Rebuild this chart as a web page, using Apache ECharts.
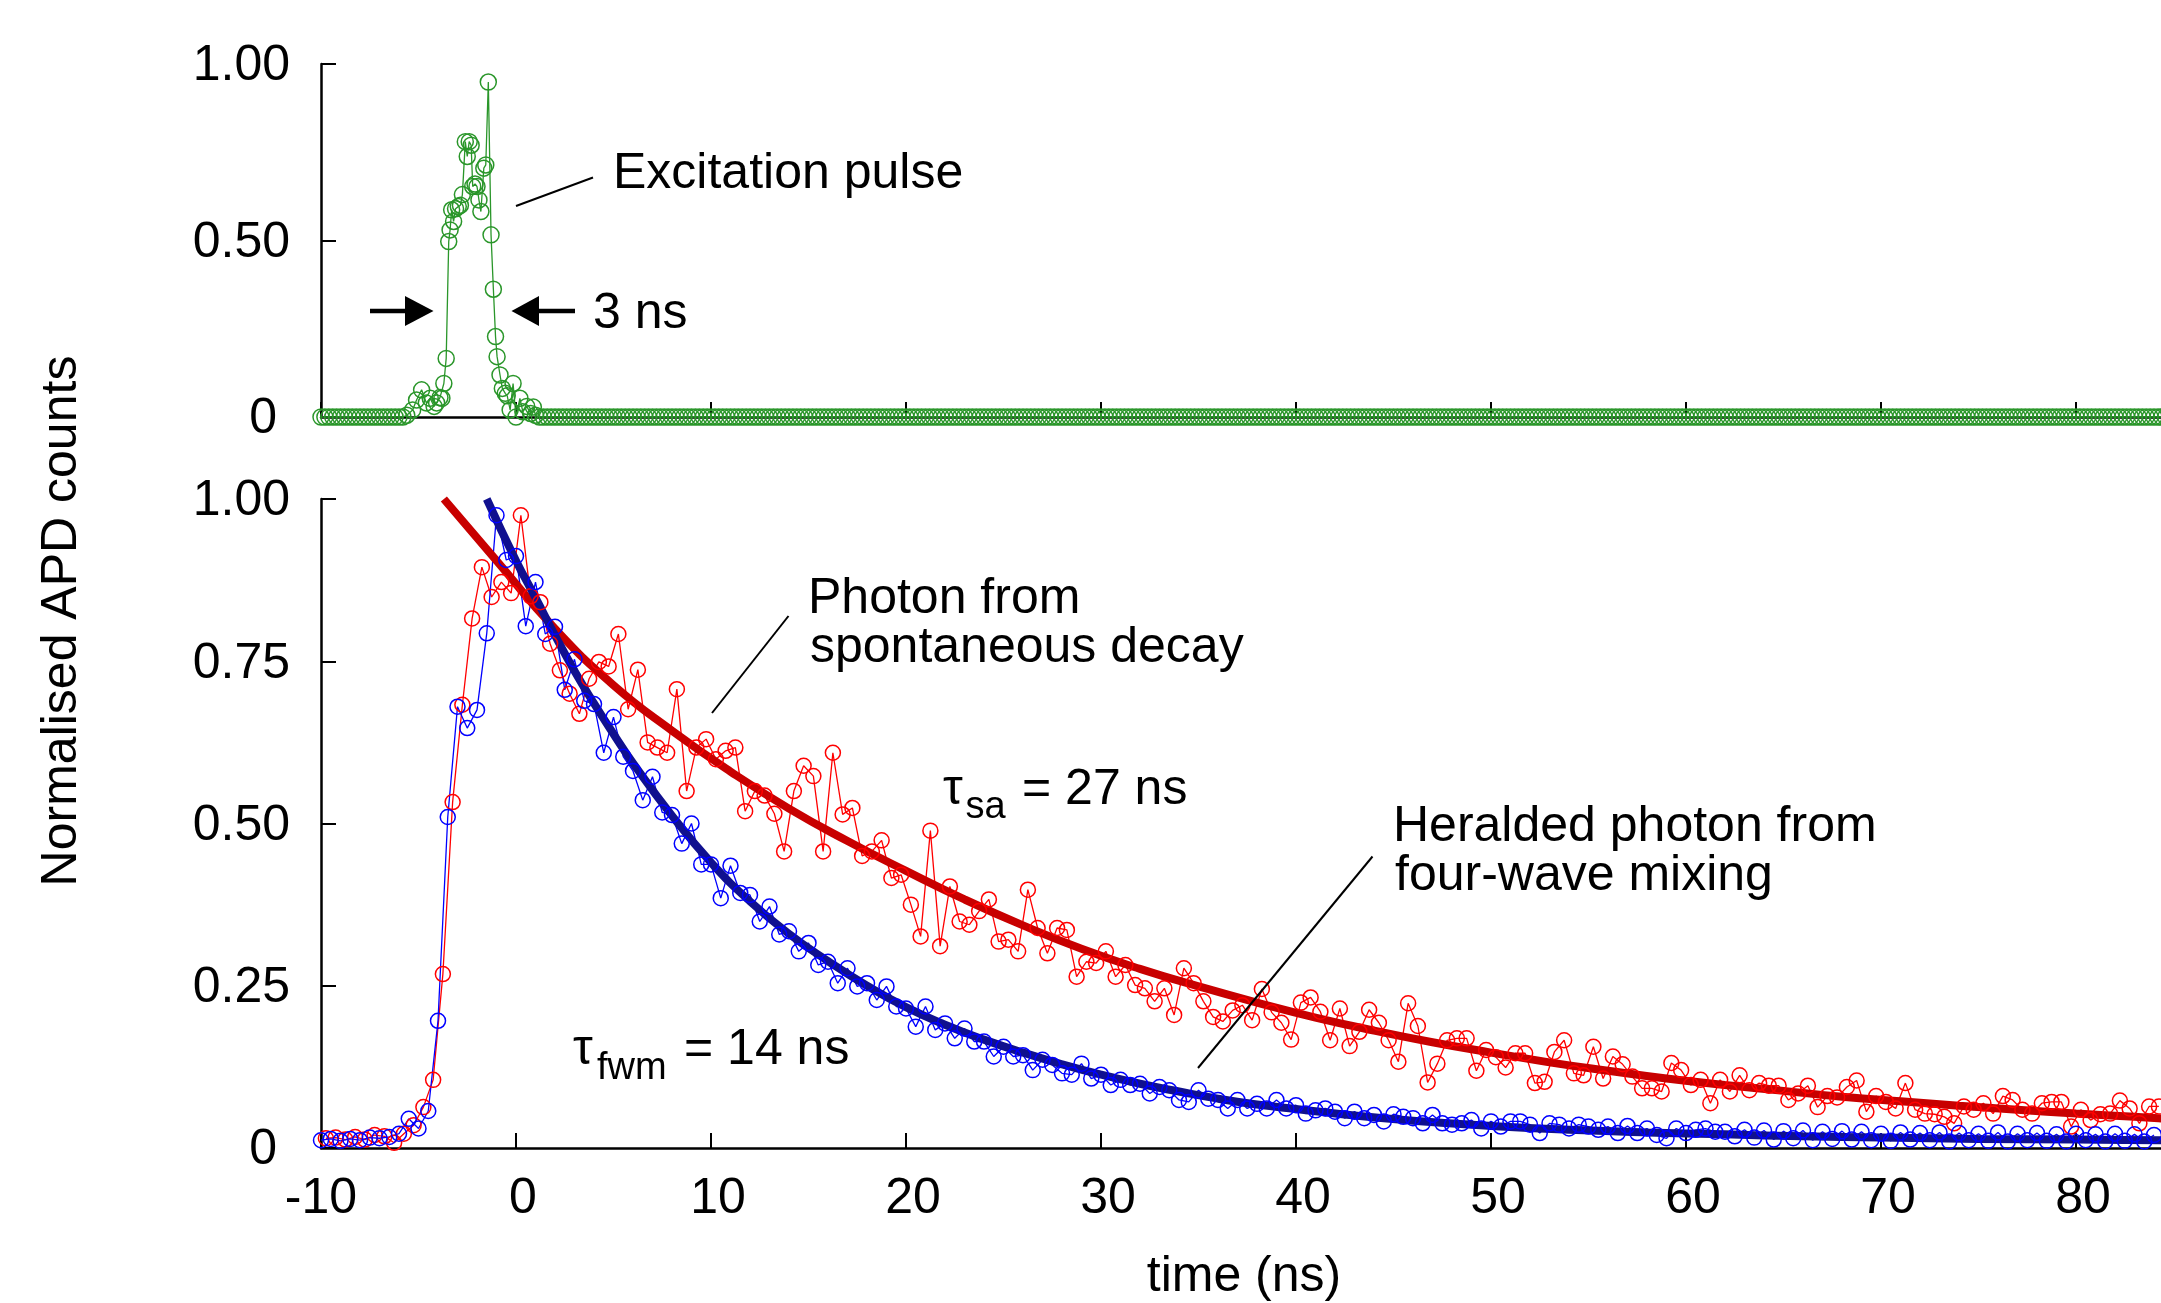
<!DOCTYPE html>
<html>
<head>
<meta charset="utf-8">
<script src="https://cdn.jsdelivr.net/npm/echarts@6/dist/echarts.min.js"></script>
<style>
html,body{margin:0;padding:0;background:#ffffff;}
#chart{width:2161px;height:1303px;}
</style>
</head>
<body>
<div id="chart"></div>
<script>
// ---------------- DATA ----------------
// Sampling grid of the two decay curves (ns)
const blueStart = -10, redStart = -9.75, sampleStep = 0.5;

// Heralded photon from four-wave mixing (blue), t = -10, -9.5, ...
const blueValues = [
  0.012,0.014,0.011,0.014,0.012,0.016,0.015,0.017,0.022,0.045,
  0.030,0.057,0.196,0.510,0.680,0.647,0.675,0.793,0.975,0.906,
  0.912,0.804,0.872,0.792,0.803,0.706,0.753,0.689,0.684,0.609,
  0.664,0.603,0.581,0.536,0.572,0.517,0.513,0.469,0.500,0.437,
  0.437,0.385,0.435,0.393,0.390,0.349,0.372,0.329,0.334,0.303,
  0.316,0.282,0.287,0.254,0.277,0.249,0.254,0.228,0.249,0.218,
  0.215,0.187,0.218,0.182,0.192,0.169,0.184,0.164,0.164,0.141,
  0.156,0.141,0.143,0.120,0.136,0.128,0.115,0.113,0.130,0.107,
  0.113,0.097,0.105,0.097,0.099,0.084,0.094,0.089,0.074,0.071,
  0.089,0.076,0.074,0.061,0.074,0.061,0.068,0.061,0.074,0.061,
  0.066,0.053,0.058,0.061,0.056,0.046,0.056,0.046,0.051,0.041,
  0.052,0.048,0.046,0.038,0.051,0.038,0.036,0.038,0.043,0.030,
  0.041,0.033,0.041,0.041,0.036,0.023,0.038,0.036,0.030,0.036,
  0.033,0.028,0.033,0.023,0.034,0.023,0.030,0.020,0.015,0.030,
  0.023,0.028,0.030,0.025,0.025,0.018,0.028,0.016,0.027,0.013,
  0.026,0.015,0.027,0.012,0.025,0.014,0.026,0.013,0.025,0.012,
  0.022,0.011,0.024,0.013,0.023,0.012,0.024,0.010,0.023,0.012,
  0.022,0.011,0.024,0.010,0.022,0.012,0.023,0.011,0.021,0.010,
  0.022,0.012,0.021,0.010,0.022,0.011,0.021,0.010,0.020
];

// Photon from spontaneous decay (red), t = -9.75, -9.25, ...
const redValues = [
  0.015,0.016,0.013,0.017,0.013,0.020,0.018,0.008,0.022,0.035,
  0.063,0.105,0.268,0.533,0.683,0.816,0.895,0.849,0.872,0.855,
  0.975,0.850,0.841,0.777,0.736,0.700,0.669,0.723,0.749,0.742,
  0.792,0.676,0.737,0.625,0.617,0.609,0.707,0.550,0.617,0.630,
  0.599,0.612,0.617,0.519,0.550,0.543,0.515,0.457,0.550,0.589,
  0.573,0.457,0.609,0.514,0.524,0.450,0.457,0.474,0.416,0.421,
  0.375,0.326,0.489,0.311,0.403,0.349,0.344,0.365,0.383,0.318,
  0.321,0.303,0.398,0.339,0.300,0.339,0.336,0.264,0.287,0.285,
  0.303,0.264,0.282,0.251,0.246,0.226,0.246,0.205,0.277,0.254,
  0.226,0.202,0.195,0.212,0.220,0.197,0.245,0.209,0.193,0.167,
  0.224,0.232,0.210,0.166,0.215,0.157,0.179,0.213,0.193,0.166,
  0.133,0.223,0.188,0.101,0.130,0.166,0.169,0.169,0.119,0.151,
  0.140,0.124,0.146,0.146,0.100,0.102,0.148,0.166,0.115,0.112,
  0.156,0.107,0.141,0.129,0.110,0.092,0.092,0.087,0.131,0.120,
  0.097,0.105,0.069,0.105,0.087,0.112,0.089,0.100,0.096,0.096,
  0.074,0.084,0.096,0.063,0.080,0.078,0.094,0.104,0.056,0.080,
  0.071,0.061,0.100,0.059,0.053,0.052,0.048,0.038,0.064,0.059,
  0.069,0.053,0.080,0.074,0.059,0.053,0.069,0.071,0.071,0.033,
  0.059,0.043,0.052,0.053,0.073,0.061,0.038,0.064,0.064
];

// Exponential fits (t in ns, value)
const redFitTimes  = [-3.7,-1,2,5,8,11,14,17,20,23,26,29,32,35,38,41,44,47,50,53,56,59,62,65,68,71,74,77,80,83,86,90];
const redFitValues = [1.0,0.905,0.80,0.713,0.643,0.58,0.523,0.473,0.427,0.383,0.343,0.307,0.276,0.249,0.224,0.201,0.181,0.163,0.147,0.132,0.119,0.107,0.097,0.088,0.079,0.072,0.065,0.059,0.053,0.048,0.043,0.038];
const blueFitTimes  = [-1.5,0,1,2,3,4,5,6,8,10,12,14,16,18,20,22,24,26,28,30,32,34,36,38,40,43,46,50,54,58,62,66,70,75,80,85,90];
const blueFitValues = [1.0,0.905,0.848,0.79,0.735,0.685,0.638,0.593,0.512,0.44,0.38,0.33,0.288,0.25,0.217,0.19,0.167,0.147,0.129,0.113,0.099,0.087,0.076,0.067,0.06,0.05,0.042,0.034,0.028,0.024,0.021,0.018,0.016,0.014,0.013,0.012,0.011];

// Excitation pulse (green), top panel
const greenPulseTimes  = [-5.6,-5.3,-5.1,-4.84,-4.6,-4.4,-4.2,-4.07,-3.9,-3.8,-3.7,-3.58,-3.45,-3.38,-3.3,-3.2,-3.1,-2.96,-2.85,-2.75,-2.6,-2.5,-2.4,-2.3,-2.22,-2.1,-2.0,-1.9,-1.8,-1.65,-1.55,-1.42,-1.28,-1.16,-1.05,-0.97,-0.82,-0.7,-0.55,-0.45,-0.3,-0.15,0.0,0.2,0.35,0.55,0.75,0.89,1.0];
const greenPulseValues = [0.005,0.02,0.048,0.077,0.04,0.053,0.03,0.04,0.055,0.053,0.095,0.166,0.497,0.53,0.587,0.554,0.59,0.596,0.60,0.63,0.78,0.738,0.78,0.77,0.653,0.66,0.653,0.615,0.582,0.705,0.714,0.949,0.516,0.362,0.228,0.171,0.119,0.081,0.067,0.06,0.02,0.095,0.0,0.053,0.015,0.03,0.01,0.028,0.005];
// Flat baseline of the pulse trace (value read as 0), sampled every 0.2 ns
const greenBaselineLevel = 0;
const greenBaselineStep = 0.2;
const greenBaselineRanges = [[-10, -5.8], [1.2, 86]];

// Tick labels
const xTickLabels = {'-10':'-10','0':'0','10':'10','20':'20','30':'30','40':'40','50':'50','60':'60','70':'70','80':'80'};
const topYTickLabels = {'0':'0','0.5':'0.50','1':'1.00'};
const bottomYTickLabels = {'0':'0','0.25':'0.25','0.5':'0.50','0.75':'0.75','1':'1.00'};

// ---------------- BUILD ----------------
const FONT = '"Liberation Sans", Arial, Helvetica, sans-serif';
const blueData = blueValues.map((v, i) => [blueStart + i * sampleStep, v]);
const redData = redValues.map((v, i) => [redStart + i * sampleStep, v]);
const redFitData = redFitTimes.map((t, i) => [t, redFitValues[i]]);
const blueFitData = blueFitTimes.map((t, i) => [t, blueFitValues[i]]);
let greenData = greenPulseTimes.map((t, i) => [t, greenPulseValues[i]]);
greenBaselineRanges.forEach(([a, b]) => {
  const n = Math.round((b - a) / greenBaselineStep);
  for (let k = 0; k <= n; k++) greenData.push([+(a + k * greenBaselineStep).toFixed(3), greenBaselineLevel]);
});
greenData.sort((p, q) => p[0] - q[0]);

const GL = 321, GW = 1950;   // x: -10 .. 90
const axisLineStyle = {color: '#000', width: 2.5};
const tickStyle = {show: true, inside: true, length: 15, lineStyle: {color: '#000', width: 2}};
const labelBase = {color: '#000', fontSize: 50, fontFamily: FONT};

function xAxisCfg(grid, showLabels) {
  return {
    gridIndex: grid, type: 'value', min: -10, max: 90, interval: 10,
    axisLine: {show: true, onZero: false, lineStyle: axisLineStyle},
    axisTick: tickStyle,
    splitLine: {show: false},
    axisLabel: showLabels ? Object.assign({}, labelBase, {
      show: true, margin: 26, showMaxLabel: false,
      formatter: v => {
        const s = xTickLabels[String(v)];
        if (s === undefined) return '';
        return v < 0 ? '{n|' + s + '}' : '{p|' + s + '}';
      },
      rich: {
        n: {fontSize: 50, fontFamily: FONT, color: '#000'},
        p: {fontSize: 50, fontFamily: FONT, color: '#000', padding: [0, 0, 0, 14]}
      }
    }) : {show: false}
  };
}
function yAxisCfg(grid, interval, labels) {
  return {
    gridIndex: grid, type: 'value', min: 0, max: 1, interval: interval,
    axisLine: {show: true, onZero: false, lineStyle: axisLineStyle},
    axisTick: tickStyle,
    splitLine: {show: false},
    axisLabel: Object.assign({}, labelBase, {
      show: true, margin: 31,
      formatter: v => {
        const s = labels[String(+v.toFixed(2))];
        if (s === undefined) return '';
        return v === 0 ? '{z|' + s + '}' : '{d|' + s + '}';
      },
      rich: {
        z: {fontSize: 50, fontFamily: FONT, color: '#000', padding: [5, 13, 0, 0]},
        d: {fontSize: 50, fontFamily: FONT, color: '#000', padding: [5, 0, 0, 0]}
      }
    })
  };
}

function dataSeries(xi, data, color, size) {
  return {
    type: 'line', xAxisIndex: xi, yAxisIndex: xi, data: data,
    symbol: 'circle', symbolSize: size, showSymbol: true, showAllSymbol: true,
    itemStyle: {color: 'rgba(0,0,0,0)', borderColor: color, borderWidth: 1.5},
    lineStyle: {color: color, width: 1.3},
    clip: false, silent: true, animation: false, emphasis: {disabled: true}
  };
}
function fitSeries(data, color) {
  return {
    type: 'line', xAxisIndex: 1, yAxisIndex: 1, data: data,
    symbol: 'none', smooth: 0.5,
    lineStyle: {color: color, width: 8, cap: 'butt'},
    silent: true, animation: false, emphasis: {disabled: true}
  };
}

function txt(x, y, s, size, extra) {
  return Object.assign({
    type: 'text', z: 100, silent: true,
    style: {x: x, y: y, text: s, fill: '#000', font: size + 'px ' + FONT,
            textAlign: 'left', textVerticalAlign: 'middle', verticalAlign: 'middle'}
  }, extra || {});
}
function seg(x1, y1, x2, y2, w) {
  return {type: 'line', z: 100, silent: true, shape: {x1, y1, x2, y2}, style: {stroke: '#000', lineWidth: w}};
}

const option = {
  backgroundColor: '#ffffff',
  animation: false,
  grid: [
    {left: GL, top: 64, width: GW, height: 353, containLabel: false, outerBoundsMode: 'none'},
    {left: GL, top: 499, width: GW, height: 649, containLabel: false, outerBoundsMode: 'none'}
  ],
  xAxis: [xAxisCfg(0, false), xAxisCfg(1, true)],
  yAxis: [yAxisCfg(0, 0.5, topYTickLabels), yAxisCfg(1, 0.25, bottomYTickLabels)],
  series: [
    dataSeries(0, greenData, '#2a962a', 16),
    dataSeries(1, redData, '#ff0000', 15),
    dataSeries(1, blueData, '#0000ff', 15),
    fitSeries(redFitData, '#c80000'),
    fitSeries(blueFitData, '#10108f')
  ],
  graphic: [
    // axis titles
    {type: 'text', z: 100, silent: true, x: 62, y: 621, rotation: Math.PI / 2,
      style: {x: 0, y: 0, text: 'Normalised APD counts', fill: '#000', font: '50px ' + FONT,
              textAlign: 'center', textVerticalAlign: 'middle', verticalAlign: 'middle'}},
    {type: 'text', z: 100, silent: true,
      style: {x: 1244, y: 1277, text: 'time (ns)', fill: '#000', font: '50px ' + FONT,
              textAlign: 'center', textVerticalAlign: 'middle', verticalAlign: 'middle'}},
    // top panel annotations
    txt(613, 174.5, 'Excitation pulse', 50),
    seg(516, 206, 593, 177.5, 2),
    txt(593, 314.5, '3 ns', 50),
    seg(370, 311, 408, 311, 4.5),
    {type: 'polygon', z: 100, silent: true, shape: {points: [[405, 296], [433.5, 311], [405, 326]]}, style: {fill: '#000'}},
    seg(536, 311, 575, 311, 4.5),
    {type: 'polygon', z: 100, silent: true, shape: {points: [[539, 296], [511.5, 311], [539, 326]]}, style: {fill: '#000'}},
    // bottom panel annotations
    txt(808, 599, 'Photon from', 50),
    txt(810, 648, 'spontaneous decay', 50),
    seg(712, 713, 788.5, 616, 2),
    txt(943, 790, 'τ', 50),
    txt(965.5, 807.5, 'sa', 38),
    txt(1022, 790, '= 27 ns', 50),
    txt(1393, 827, 'Heralded photon from', 50),
    txt(1395, 876, 'four-wave mixing', 50),
    seg(1198, 1068, 1372.5, 856.5, 2),
    txt(573, 1050, 'τ', 50),
    txt(597, 1069, 'fwm', 38),
    txt(684, 1050, '= 14 ns', 50)
  ]
};

const chart = echarts.init(document.getElementById('chart'), null, {renderer: 'canvas', width: 2161, height: 1303});
chart.setOption(option);
</script>
</body>
</html>
